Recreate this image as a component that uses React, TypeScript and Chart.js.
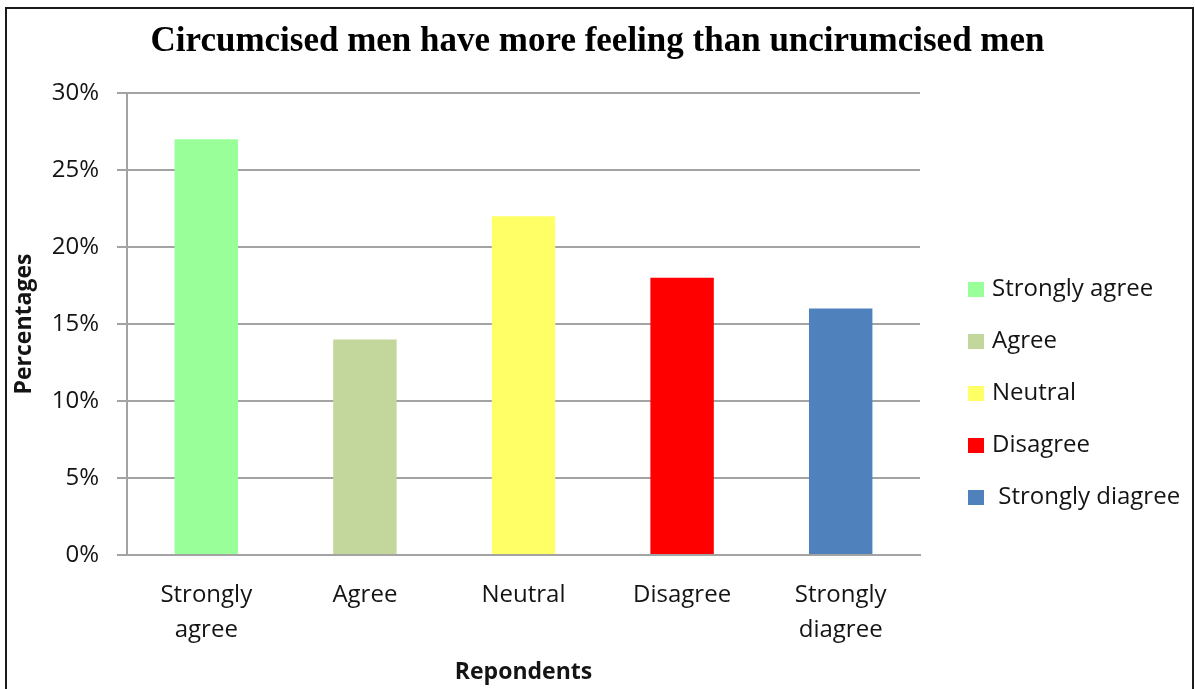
import { useEffect, useRef } from "react";
import { Chart, registerables, layouts } from "chart.js";

Chart.register(...registerables);

// Survey answers and their share of respondents (percent)
const categories: string[][] = [
  ["Strongly", "agree"],
  ["Agree"],
  ["Neutral"],
  ["Disagree"],
  ["Strongly", "diagree"],
];
const legendLabels = ["Strongly agree", "Agree", "Neutral", "Disagree", " Strongly diagree"];
const percentages = [27, 14, 22, 18, 16];
const barColors = ["#99FF99", "#C3D69B", "#FFFF66", "#FF0000", "#4F81BD"];
const yMin = 0;
const yMax = 30;
const yStep = 5;

const chartTitle = "Circumcised men have more feeling than uncirumcised men";
const xTitle = "Repondents";
const yTitle = "Percentages";

const SANS = "'Open Sans', 'Noto Sans', sans-serif";
const TEXT = "#141414";
const GRID = "#a3a3a3";

// A right-hand layout box that reserves space beside the plot and lists the categories.
function makeSideLegend(chart: Chart) {
  const box: any = {
    position: "right",
    weight: 10,
    fullSize: false,
    options: {},
    top: 0,
    left: 0,
    right: 0,
    bottom: 0,
    width: 0,
    height: 0,
    isHorizontal: () => false,
    update(_maxWidth: number, maxHeight: number) {
      this.width = 275;
      this.height = maxHeight;
    },
    draw() {
      const ctx = chart.ctx;
      const ds = chart.data.datasets[0];
      const colors = ds.backgroundColor as string[];
      ctx.save();
      ctx.font = `24px ${SANS}`;
      ctx.textBaseline = "middle";
      ctx.textAlign = "left";
      legendLabels.forEach((label, i) => {
        const cy = this.top + 196 + i * 52;
        ctx.fillStyle = colors[i];
        ctx.fillRect(this.left + 48, cy - 7, 16, 15);
        ctx.fillStyle = TEXT;
        ctx.fillText(label, this.left + 72, cy);
      });
      ctx.restore();
    },
  };
  return box;
}

const sideLegend = {
  id: "sideLegend",
  beforeInit(chart: Chart) {
    layouts.addBox(chart, makeSideLegend(chart));
  },
};

export default function App() {
  const canvasRef = useRef<HTMLCanvasElement>(null);

  useEffect(() => {
    const chart = new Chart(canvasRef.current!, {
      type: "bar",
      data: {
        labels: categories,
        datasets: [
          {
            label: yTitle,
            data: percentages,
            backgroundColor: barColors,
            barPercentage: 0.4,
            categoryPercentage: 1,
          },
        ],
      },
      options: {
        animation: false,
        responsive: false,
        devicePixelRatio: 1,
        layout: { padding: 0 },
        plugins: {
          legend: { display: false },
          tooltip: { enabled: false },
          title: {
            display: true,
            text: chartTitle,
            color: "#000",
            font: { family: "'Liberation Serif', 'Times New Roman', serif", size: 35, weight: "bold", lineHeight: 1.2 },
            padding: { top: 21, bottom: 30 },
          },
        },
        scales: {
          x: {
            grid: { display: false, drawTicks: false },
            border: { display: true, color: GRID, width: 2, z: 1 },
            ticks: {
              color: TEXT,
              font: { family: SANS, size: 24, lineHeight: 35 / 24 },
              padding: 23,
              maxRotation: 0,
              autoSkip: false,
            },
            title: {
              display: true,
              text: xTitle,
              color: TEXT,
              font: { family: SANS, size: 23, weight: "bold", lineHeight: 1.2 },
              padding: { top: 0, bottom: 2.5 },
            },
            afterFit: (scale: any) => {
              scale.height = 134;
            },
          },
          y: {
            min: yMin,
            max: yMax,
            ticks: {
              stepSize: yStep,
              callback: (v: any) => `${v}%`,
              color: TEXT,
              font: { family: SANS, size: 24 },
              padding: 18,
            },
            grid: { color: GRID, lineWidth: 2, drawTicks: true, tickLength: 10 },
            border: { display: true, color: GRID, width: 2 },
            title: {
              display: true,
              text: yTitle,
              color: TEXT,
              font: { family: SANS, size: 23, weight: "bold", lineHeight: 1.2 },
              padding: { top: 11, bottom: 0 },
            },
            afterFit: (scale: any) => {
              scale.width = 127;
            },
          },
        },
      },
      plugins: [sideLegend as any],
    });
    return () => chart.destroy();
  }, []);

  return (
    <div style={{ position: "fixed", left: 0, top: 0, width: 1195, height: 689, background: "#fff", overflow: "hidden" }}>
      <div
        style={{
          position: "absolute",
          left: 5,
          top: 7,
          width: 1189,
          height: 700,
          boxSizing: "border-box",
          borderTop: "2px solid #1a1a1a",
          borderLeft: "2px solid #1a1a1a",
          borderRight: "2px solid #1a1a1a",
        }}
      />
      <canvas ref={canvasRef} width={1195} height={689} style={{ position: "absolute", left: 0, top: 0 }} />
    </div>
  );
}
